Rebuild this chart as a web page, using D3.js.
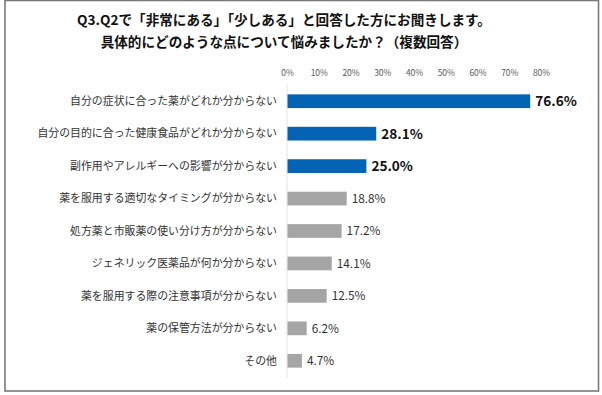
<!DOCTYPE html>
<html><head><meta charset="utf-8">
<script src="https://cdn.jsdelivr.net/npm/d3@7"></script>
<style>
html,body{margin:0;padding:0;background:#fff;}
svg{display:block;}
text{font-family:"Noto Sans CJK JP","Noto Sans",sans-serif;}
</style></head>
<body>
<svg id="chart" width="602" height="395"></svg>
<script>
const titleLines = ["Q3.Q2で「非常にある」「少しある」と回答した方にお聞きします。","具体的にどのような点について悩みましたか？（複数回答）"];
const categories = ["自分の症状に合った薬がどれか分からない","自分の目的に合った健康食品がどれか分からない","副作用やアレルギーへの影響が分からない","薬を服用する適切なタイミングが分からない","処方薬と市販薬の使い分け方が分からない","ジェネリック医薬品が何か分からない","薬を服用する際の注意事項が分からない","薬の保管方法が分からない","その他"];
const values = [76.6,28.1,25.0,18.8,17.2,14.1,12.5,6.2,4.7];
const highlighted = [true,true,true,false,false,false,false,false,false];
const tickValues = [0,10,20,30,40,50,60,70,80];

const svg = d3.select("#chart");
// frame
svg.append("rect").attr("x",5).attr("y",0.5).attr("width",593.5).attr("height",390.5)
  .attr("fill","#fff").attr("stroke","#7a7a7a").attr("stroke-width",1.6);

svg.selectAll("text.title").data(titleLines).join("text").attr("class","title")
  .attr("x",284).attr("y",(d,i)=>25+i*22).attr("text-anchor","middle")
  .attr("font-size",13.6).attr("font-weight","bold").attr("fill","#111").text(d=>d);

const x = d3.scaleLinear().domain([0,80]).range([287,541]);
const y = d3.scaleBand().domain(categories).range([85,377]).paddingInner(0.577).paddingOuter(0.2885);

// tick labels
const axis = d3.axisTop(x).tickValues(tickValues).tickFormat(d=>d+"%").tickSize(0).tickPadding(0);
const ag = svg.append("g").attr("transform","translate(0,76)").call(axis);
ag.select(".domain").remove();
ag.selectAll("text").attr("font-size",8.5).attr("fill","#595959").attr("font-family","'Noto Sans CJK JP',sans-serif");

// vertical axis line
svg.append("line").attr("x1",x(0)).attr("x2",x(0)).attr("y1",84).attr("y2",378)
  .attr("stroke","#e3e3e3").attr("stroke-width",1);

svg.selectAll("rect.bar").data(values).join("rect").attr("class","bar")
  .attr("x",x(0)+0.5).attr("y",(d,i)=>y(categories[i]))
  .attr("width",d=>x(d)-x(0)-0.5).attr("height",y.bandwidth())
  .attr("fill",(d,i)=>highlighted[i]?"#0563b4":"#a5a5a5");

svg.selectAll("text.cat").data(categories).join("text").attr("class","cat")
  .attr("x",277).attr("y",d=>y(d)+y.bandwidth()/2).attr("dy","0.35em")
  .attr("text-anchor","end").attr("font-size",10.9).attr("fill","#333").text(d=>d);

svg.selectAll("text.val").data(values).join("text").attr("class","val")
  .attr("x",d=>x(d)+5).attr("y",(d,i)=>y(categories[i])+y.bandwidth()/2).attr("dy","0.36em")
  .attr("font-size",(d,i)=>highlighted[i]?13.6:11.8)
  .attr("font-weight",(d,i)=>highlighted[i]?"bold":"normal")
  .attr("fill",(d,i)=>highlighted[i]?"#111":"#333")
  .text(d=>d.toFixed(1)+"%");
</script>
</body></html>
